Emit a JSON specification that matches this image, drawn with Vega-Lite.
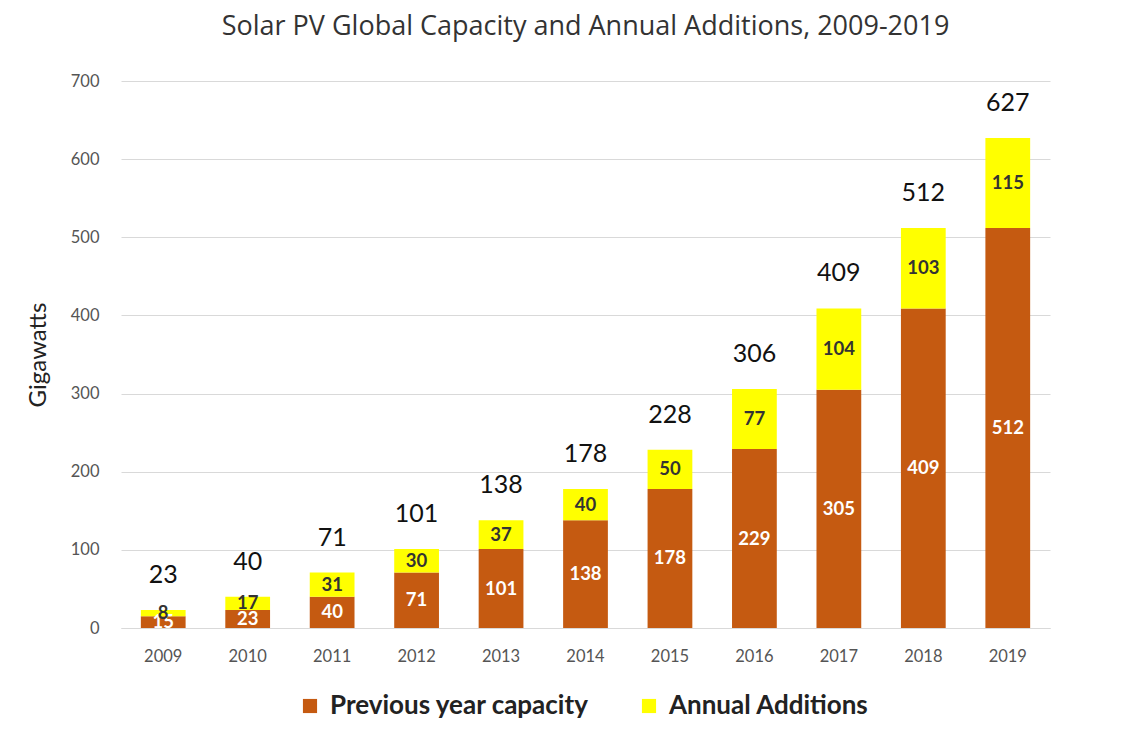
{
  "$schema": "https://vega.github.io/schema/vega-lite/v6.json",
  "autosize": {"type": "none"},
  "width": 929,
  "height": 547,
  "padding": {"left": 121, "top": 81, "right": 84, "bottom": 119},
  "background": "white",
  "title": {
    "text": "Solar PV Global Capacity and Annual Additions, 2009-2019",
    "font": "Open Sans",
    "fontSize": 27,
    "fontWeight": "normal",
    "color": "#333333",
    "anchor": "middle",
    "offset": 32
  },
  "config": {
    "view": {"stroke": null},
    "font": "Lato"
  },
  "data": {
    "values": [
      {"year": "2009", "series": "Previous year capacity", "order": 1, "value": 15, "total": null},
      {"year": "2009", "series": "Annual Additions", "order": 2, "value": 8, "total": 23},
      {"year": "2010", "series": "Previous year capacity", "order": 1, "value": 23, "total": null},
      {"year": "2010", "series": "Annual Additions", "order": 2, "value": 17, "total": 40},
      {"year": "2011", "series": "Previous year capacity", "order": 1, "value": 40, "total": null},
      {"year": "2011", "series": "Annual Additions", "order": 2, "value": 31, "total": 71},
      {"year": "2012", "series": "Previous year capacity", "order": 1, "value": 71, "total": null},
      {"year": "2012", "series": "Annual Additions", "order": 2, "value": 30, "total": 101},
      {"year": "2013", "series": "Previous year capacity", "order": 1, "value": 101, "total": null},
      {"year": "2013", "series": "Annual Additions", "order": 2, "value": 37, "total": 138},
      {"year": "2014", "series": "Previous year capacity", "order": 1, "value": 138, "total": null},
      {"year": "2014", "series": "Annual Additions", "order": 2, "value": 40, "total": 178},
      {"year": "2015", "series": "Previous year capacity", "order": 1, "value": 178, "total": null},
      {"year": "2015", "series": "Annual Additions", "order": 2, "value": 50, "total": 228},
      {"year": "2016", "series": "Previous year capacity", "order": 1, "value": 229, "total": null},
      {"year": "2016", "series": "Annual Additions", "order": 2, "value": 77, "total": 306},
      {"year": "2017", "series": "Previous year capacity", "order": 1, "value": 305, "total": null},
      {"year": "2017", "series": "Annual Additions", "order": 2, "value": 104, "total": 409},
      {"year": "2018", "series": "Previous year capacity", "order": 1, "value": 409, "total": null},
      {"year": "2018", "series": "Annual Additions", "order": 2, "value": 103, "total": 512},
      {"year": "2019", "series": "Previous year capacity", "order": 1, "value": 512, "total": null},
      {"year": "2019", "series": "Annual Additions", "order": 2, "value": 115, "total": 627}
    ]
  },
  "transform": [
    {"stack": "value", "groupby": ["year"], "sort": [{"field": "order", "order": "ascending"}], "as": ["v0", "v1"]},
    {"calculate": "(datum.v0 + datum.v1) / 2", "as": "mid"}
  ],
  "encoding": {
    "x": {
      "field": "year",
      "type": "ordinal",
      "scale": {"paddingInner": 0.47, "paddingOuter": 0.235},
      "axis": {
        "title": null,
        "labelAngle": 0,
        "labelFont": "Lato",
        "labelFontSize": 16.5,
        "labelColor": "#555555",
        "labelPadding": 20,
        "ticks": false,
        "domain": true,
        "domainColor": "#d9d9d9"
      }
    }
  },
  "layer": [
    {
      "mark": {"type": "bar"},
      "encoding": {
        "y": {
          "field": "v0",
          "type": "quantitative",
          "scale": {"domain": [0, 700], "nice": false},
          "axis": {
            "title": "Gigawatts",
            "titleFont": "Lato",
            "titleFontSize": 24,
            "titleFontWeight": "normal",
            "titleColor": "#222222",
            "titlePadding": 20,
            "values": [0, 100, 200, 300, 400, 500, 600, 700],
            "labelFont": "Lato",
            "labelFontSize": 16.5,
            "labelColor": "#555555",
            "labelPadding": 22,
            "ticks": false,
            "domain": false,
            "grid": true,
            "gridColor": "#d9d9d9"
          }
        },
        "y2": {"field": "v1"},
        "color": {
          "field": "series",
          "type": "nominal",
          "scale": {
            "domain": ["Previous year capacity", "Annual Additions"],
            "range": ["#c55a11", "#ffff00"]
          },
          "legend": {
            "title": null,
            "orient": "none",
            "direction": "horizontal",
            "legendX": 176,
            "legendY": 612,
            "symbolType": "square",
            "symbolSize": 200,
            "symbolStrokeWidth": 0,
            "labelFont": "Lato",
            "labelFontSize": 26,
            "labelFontWeight": "bold",
            "labelColor": "#222222",
            "labelLimit": 0,
            "columnPadding": 46,
            "labelOffset": 7
          }
        }
      }
    },
    {
      "transform": [{"filter": "datum.order == 1"}],
      "mark": {"type": "text", "font": "Lato", "fontSize": 18.5, "fontWeight": "bold", "color": "#ffffff", "baseline": "middle"},
      "encoding": {
        "y": {"field": "mid", "type": "quantitative"},
        "text": {"field": "value", "type": "quantitative"}
      }
    },
    {
      "transform": [{"filter": "datum.order == 2"}],
      "mark": {"type": "text", "font": "Lato", "fontSize": 18.5, "fontWeight": "bold", "color": "#333333", "baseline": "middle"},
      "encoding": {
        "y": {"field": "mid", "type": "quantitative"},
        "text": {"field": "value", "type": "quantitative"}
      }
    },
    {
      "transform": [{"filter": "datum.order == 2"}],
      "mark": {"type": "text", "font": "Lato", "fontSize": 25, "color": "#111111", "baseline": "middle", "dy": -35},
      "encoding": {
        "y": {"field": "total", "type": "quantitative"},
        "text": {"field": "total", "type": "quantitative"}
      }
    }
  ]
}
